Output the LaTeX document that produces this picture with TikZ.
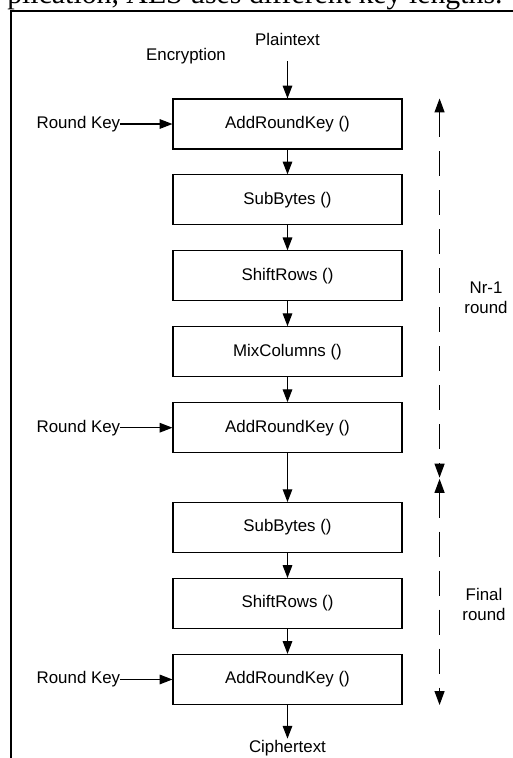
\documentclass[tikz,border=0pt]{standalone}
\usepackage{fontspec}
\setmainfont{Liberation Sans}
\newfontfamily\bodyserif{Liberation Serif}
\usetikzlibrary{positioning, arrows.meta}
\tikzset{
  stage/.style={draw, line width=0.8pt, minimum width=5.725cm, minimum height=1.25cm, inner sep=0pt, font=\fontsize{12}{14}\selectfont},
  lbl/.style={font=\fontsize{12}{14.2}\selectfont, inner sep=1pt},
  arr/.style={-{Triangle[length=3.2mm, width=2.4mm]}, line width=0.8pt},
  rng/.style={{Triangle[length=3.5mm, width=2.5mm]}-{Triangle[length=3.5mm, width=2.5mm]}, line width=0.9pt, dash pattern=on 0.625cm off 0.35cm}
}

\begin{document}
\begin{tikzpicture}[node distance=0.62cm]
\useasboundingbox (0,0) rectangle (12.825,-18.95);
\clip (0,0) rectangle (12.825,-18.95);
% cut-off line of the page text above the figure
\node[anchor=base west, inner sep=0pt, font=\bodyserif\fontsize{21.2}{24}\selectfont] (prev) at (0.175,-0.09) {plication, AES uses different key lengths.};
\draw[line width=0.8pt] (0.275,-18.95) -- (0.275,-0.275) -- (12.825,-0.275);

% main rounds
\node[stage] (ark1) at (7.1875,-3.1) {AddRoundKey ()};
\node[stage, below=of ark1] (sb1) {SubBytes ()};
\node[stage, below=of sb1] (sr1) {ShiftRows ()};
\node[stage, below=of sr1] (mc1) {MixColumns ()};
\node[stage, below=of mc1] (ark2) {AddRoundKey ()};
% final round
\node[stage, below=1.22cm of ark2] (sb2) {SubBytes ()};
\node[stage, below=of sb2] (sr2) {ShiftRows ()};
\node[stage, below=of sr2] (ark3) {AddRoundKey ()};

\node[lbl, above=1.27cm of ark1] (pt) {Plaintext};
\node[lbl, anchor=base] (enc) at (4.65,-1.5) {Encryption};
\node[lbl, below=0.84cm of ark3] (ct) {Ciphertext};

\node[lbl, inner sep=0pt, left=1.3cm of ark1] (k1) {Round Key};
\node[lbl, inner sep=0pt, left=1.3cm of ark2] (k2) {Round Key};
\node[lbl, inner sep=0pt, left=1.3cm of ark3] (k3) {Round Key};

\draw[arr, shorten <=3.4mm] (pt) -- (ark1);
\draw[arr] (ark1) -- (sb1);
\draw[arr] (sb1) -- (sr1);
\draw[arr] (sr1) -- (mc1);
\draw[arr] (mc1) -- (ark2);
\draw[arr] (ark2) -- (sb2);
\draw[arr] (sb2) -- (sr2);
\draw[arr] (sr2) -- (ark3);
\draw[arr] (ark3) -- (ct);
\draw[arr] (k1) -- (ark1);
\draw[arr] (k2) -- (ark2);
\draw[arr] (k3) -- (ark3);

% round ranges
\coordinate (ra) at ([xshift=0.925cm]ark1.north east);
\coordinate (rm1) at ([xshift=0.925cm, yshift=-0.61cm]ark2.south east);
\coordinate (rm2) at ([xshift=0.925cm, yshift=-0.64cm]ark2.south east);
\coordinate (rb) at ([xshift=0.925cm]ark3.south east);
\draw[rng] (ra) -- (rm1);
\draw[rng] (rm2) -- (rb);
\node[lbl, align=center] (nr) at (12.15,-7.45) {Nr-1\\round};
\node[lbl, align=center] (fin) at (12.1,-15.1) {Final\\round};
\end{tikzpicture}
\end{document}
